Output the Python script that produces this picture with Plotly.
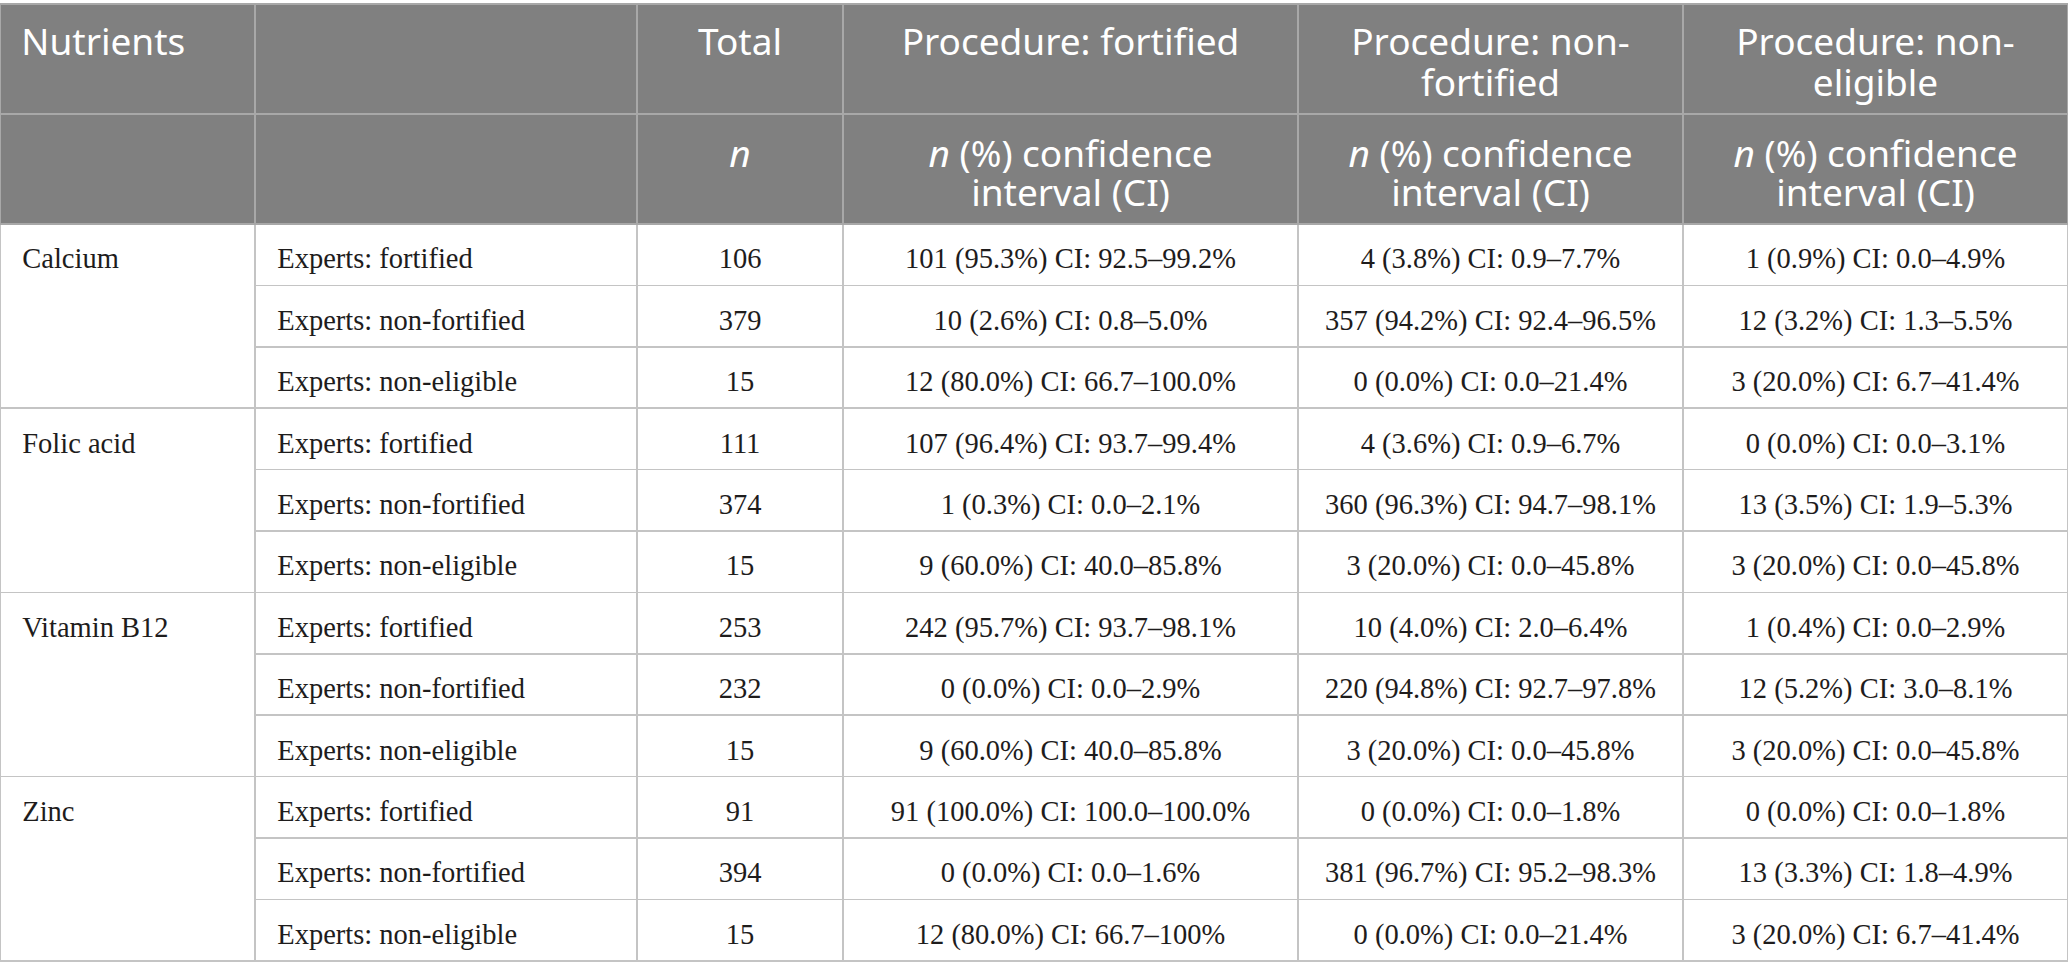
import plotly.graph_objects as go

# ==========================================
# Data
# ==========================================

nutrients = ["Calcium", "Folic acid", "Vitamin B12", "Zinc"]

expert_groups = ["Experts: fortified", "Experts: non-fortified", "Experts: non-eligible"]

header_top = ["Nutrients", "", "Total", "Procedure: fortified",
              "Procedure: non-<br>fortified", "Procedure: non-<br>eligible"]
header_sub = ["", "", "<i>n</i>",
              "<i>n</i> (%) confidence<br>interval (CI)",
              "<i>n</i> (%) confidence<br>interval (CI)",
              "<i>n</i> (%) confidence<br>interval (CI)"]

totals = [106, 379, 15,
          111, 374, 15,
          253, 232, 15,
          91, 394, 15]

proc_fortified = [
    "101 (95.3%) CI: 92.5–99.2%", "10 (2.6%) CI: 0.8–5.0%", "12 (80.0%) CI: 66.7–100.0%",
    "107 (96.4%) CI: 93.7–99.4%", "1 (0.3%) CI: 0.0–2.1%", "9 (60.0%) CI: 40.0–85.8%",
    "242 (95.7%) CI: 93.7–98.1%", "0 (0.0%) CI: 0.0–2.9%", "9 (60.0%) CI: 40.0–85.8%",
    "91 (100.0%) CI: 100.0–100.0%", "0 (0.0%) CI: 0.0–1.6%", "12 (80.0%) CI: 66.7–100%",
]

proc_non_fortified = [
    "4 (3.8%) CI: 0.9–7.7%", "357 (94.2%) CI: 92.4–96.5%", "0 (0.0%) CI: 0.0–21.4%",
    "4 (3.6%) CI: 0.9–6.7%", "360 (96.3%) CI: 94.7–98.1%", "3 (20.0%) CI: 0.0–45.8%",
    "10 (4.0%) CI: 2.0–6.4%", "220 (94.8%) CI: 92.7–97.8%", "3 (20.0%) CI: 0.0–45.8%",
    "0 (0.0%) CI: 0.0–1.8%", "381 (96.7%) CI: 95.2–98.3%", "0 (0.0%) CI: 0.0–21.4%",
]

proc_non_eligible = [
    "1 (0.9%) CI: 0.0–4.9%", "12 (3.2%) CI: 1.3–5.5%", "3 (20.0%) CI: 6.7–41.4%",
    "0 (0.0%) CI: 0.0–3.1%", "13 (3.5%) CI: 1.9–5.3%", "3 (20.0%) CI: 0.0–45.8%",
    "1 (0.4%) CI: 0.0–2.9%", "12 (5.2%) CI: 3.0–8.1%", "3 (20.0%) CI: 0.0–45.8%",
    "0 (0.0%) CI: 0.0–1.8%", "13 (3.3%) CI: 1.8–4.9%", "3 (20.0%) CI: 6.7–41.4%",
]

# ==========================================
# Layout
# ==========================================

W, H = 2068, 979
col_px = [255, 382, 206, 455, 385, 385]
top_px, head_h, row_h = 4, 110, 61.4
sub_top = top_px + head_h
body_top = sub_top + head_h
body_bottom = body_top + row_h * len(totals)
text_shift = 15   # plotly puts text at the top of a cell; push it down
line_gap = 41     # spacing between wrapped header lines
markup_fix = -10  # cells holding <i> markup are laid out a bit lower

HEAD_FILL = "#808080"
HEAD_LINE = "#a8a8a8"
BODY_LINE = "#c4c4c4"
TEXT = "#1e1c1c"
SANS = "Noto Sans"
SERIF = "Liberation Serif"
CLEAR = "rgba(0,0,0,0)"
pad = "\u00a0\u00a0"
hpad = "\u00a0\u200a"

experts_col = [pad + e for e in expert_groups * len(nutrients)]
nutrient_col = [pad + n for n in nutrients]


def line_of(text, k):
    parts = text.split("<br>")
    return parts[k] if k < len(parts) else ""


# plotly left-aligns wrapped lines, so each header line gets its own layer
top_lines = [[line_of(h, k) for h in header_top] for k in range(2)]
sub_lines = [[line_of(h, k) for h in header_sub] for k in range(2)]
top_lines[0][0] = hpad + top_lines[0][0]

x0 = col_px[0] / W


def yd(a, b):
    return [max(0, 1 - b / H), 1 - a / H]


def blank(col):
    return ["" for _ in col]


fig = go.Figure()

# ------------------------------------------
# Grid layer (fills + lines, no text)
# ------------------------------------------
fig.add_trace(go.Table(
    domain=dict(x=[0, 1], y=yd(top_px, body_top + 4)),
    columnwidth=col_px,
    header=dict(values=blank(header_top), height=head_h, fill_color=HEAD_FILL,
                line=dict(color=HEAD_LINE, width=1.5)),
    cells=dict(values=[[""] for _ in header_sub], height=head_h, fill_color=HEAD_FILL,
               line=dict(color=HEAD_LINE, width=1.5)),
))

fig.add_trace(go.Table(
    domain=dict(x=[0, x0], y=yd(sub_top, body_bottom + 4)),
    columnwidth=[1],
    header=dict(values=[""], height=head_h, fill_color=HEAD_FILL,
                line=dict(color=HEAD_LINE, width=1.5)),
    cells=dict(values=[blank(nutrient_col)], height=row_h * 3, fill_color="white",
               line=dict(color=BODY_LINE, width=1.5)),
))

fig.add_trace(go.Table(
    domain=dict(x=[x0, 1], y=yd(sub_top, body_bottom + 4)),
    columnwidth=col_px[1:],
    header=dict(values=["" for _ in range(5)], height=head_h, fill_color=HEAD_FILL,
                line=dict(color=HEAD_LINE, width=1.5)),
    cells=dict(values=[blank(experts_col), blank(totals), blank(proc_fortified),
                       blank(proc_non_fortified), blank(proc_non_eligible)],
               height=row_h, fill_color="white",
               line=dict(color=BODY_LINE, width=1.5)),
))

# ------------------------------------------
# Text layer
# ------------------------------------------
hfont = dict(family=SANS, size=37, color="white")
bfont = dict(family=SERIF, size=28.5, color=TEXT)
halign = ["left", "left", "center", "center", "center", "center"]

bands = [
    (top_px + text_shift, top_lines[0]),
    (top_px + text_shift + line_gap, top_lines[1]),
    (sub_top + text_shift + markup_fix, sub_lines[0]),
    (sub_top + text_shift + line_gap, sub_lines[1]),
]

for band_top, values in bands:
    fig.add_trace(go.Table(
        domain=dict(x=[0, 1], y=yd(band_top, H)),
        columnwidth=col_px,
        header=dict(values=values, height=head_h, fill_color=CLEAR,
                    line=dict(width=0), font=hfont, align=halign),
        cells=dict(values=[[""] for _ in col_px], height=10, fill_color=CLEAR,
                   line=dict(width=0)),
    ))

fig.add_trace(go.Table(
    domain=dict(x=[0, x0], y=yd(sub_top + text_shift, H)),
    columnwidth=[1],
    header=dict(values=[""], height=head_h, fill_color=CLEAR, line=dict(width=0)),
    cells=dict(values=[nutrient_col], height=row_h * 3, fill_color=CLEAR,
               line=dict(width=0), font=bfont, align="left"),
))

fig.add_trace(go.Table(
    domain=dict(x=[x0, 1], y=yd(sub_top + text_shift, H)),
    columnwidth=col_px[1:],
    header=dict(values=["" for _ in range(5)], height=head_h, fill_color=CLEAR,
                line=dict(width=0)),
    cells=dict(values=[experts_col, totals, proc_fortified, proc_non_fortified, proc_non_eligible],
               height=row_h, fill_color=CLEAR, line=dict(width=0), font=bfont,
               align=["left", "center", "center", "center", "center"]),
))

fig.update_layout(
    width=W,
    height=H,
    margin=dict(l=0, r=0, t=0, b=0),
    paper_bgcolor="white",
)

fig.write_html("out.html", config={"displayModeBar": False},
               post_script="document.body.style.margin = '0';")
